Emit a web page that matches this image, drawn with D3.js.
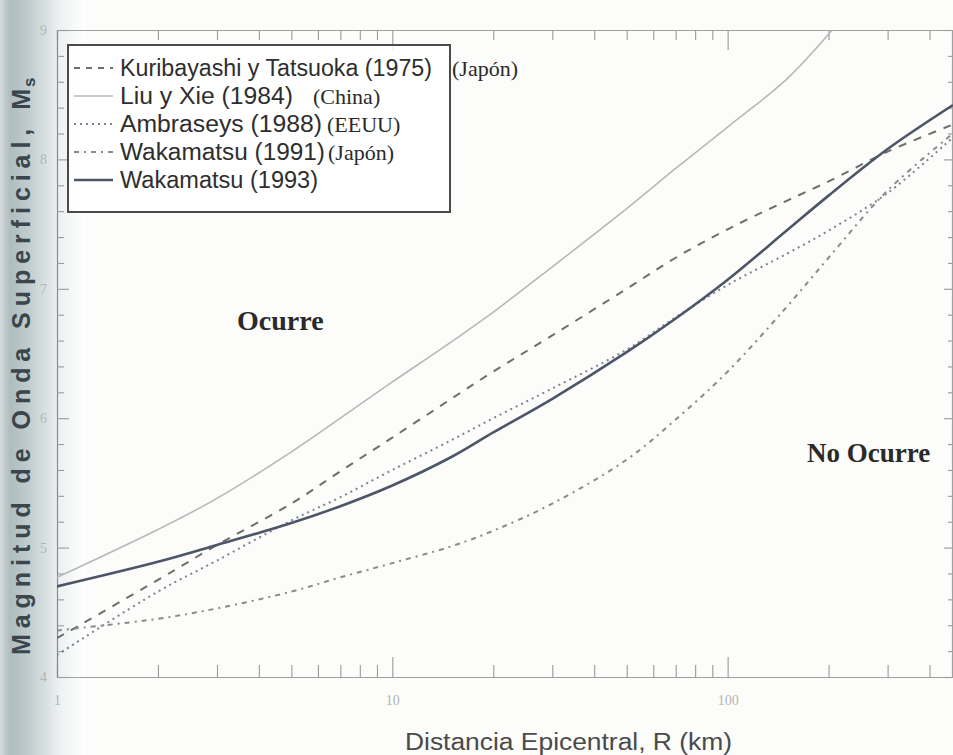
<!DOCTYPE html>
<html><head><meta charset="utf-8">
<script src="https://cdn.jsdelivr.net/npm/d3@7"></script>
<style>body{margin:0;background:#fff}svg{display:block}</style>
</head><body><svg id="c" width="953" height="755"></svg>
<script>
// ---- data ----
const distance = [1, 2, 3, 5, 7, 10, 15, 20, 30, 50, 70, 100, 150, 200, 300, 470];
const kuribayashi = [4.30, 4.75, 5.02, 5.34, 5.59, 5.85, 6.15, 6.36, 6.64, 7.00, 7.24, 7.46, 7.68, 7.83, 8.06, 8.27];
const ambraseys = [4.17, 4.66, 4.90, 5.21, 5.39, 5.60, 5.83, 6.00, 6.23, 6.53, 6.78, 7.03, 7.27, 7.45, 7.74, 8.17];
const wakamatsu1991 = [4.36, 4.45, 4.53, 4.66, 4.77, 4.88, 5.01, 5.13, 5.34, 5.68, 5.99, 6.36, 6.86, 7.24, 7.76, 8.20];
const wakamatsu1993 = [4.70, 4.89, 5.02, 5.19, 5.32, 5.48, 5.70, 5.89, 6.15, 6.51, 6.77, 7.07, 7.45, 7.72, 8.08, 8.42];
const liuDistance = [1, 2, 3, 5, 7, 10, 15, 20, 30, 50, 70, 100, 150, 205];
const liuXie = [4.77, 5.14, 5.38, 5.74, 6.00, 6.28, 6.59, 6.82, 7.17, 7.62, 7.93, 8.25, 8.62, 9.0];
const seriesNames = ["Kuribayashi y Tatsuoka (1975)", "Liu y Xie (1984)", "Ambraseys (1988)", "Wakamatsu (1991)", "Wakamatsu (1993)"];
const seriesRegions = ["(Japón)", "(China)", "(EEUU)", "(Japón)", ""];
const yTickLabels = [4, 5, 6, 7, 8, 9];
const xTickLabels = [1, 10, 100];
const regionLabels = ["Ocurre", "No Ocurre"];
const xTitle = "Distancia Epicentral, R (km)";
const yTitle = "Magnitud de Onda Superficial, M";
const yTitleSub = "s";

// ---- drawing ----
const svg = d3.select("#c");
const W = 953, H = 755;
const L = 57, R = 953, T = 30, B = 677;
const x = d3.scaleLog().domain([1, 470]).range([L, R]);
const y = d3.scaleLinear().domain([4, 9]).range([B, T]);

const defs = svg.append("defs");
const g1 = defs.append("linearGradient").attr("id", "shade").attr("x1", 0).attr("x2", 1).attr("y1", 0).attr("y2", 0);
[[0, "#d6dcdd"], [0.12, "#aebdc0"], [0.35, "#c2cdcf"], [0.7, "#eef1f1"], [1, "#ffffff"]].forEach(s => g1.append("stop").attr("offset", s[0]).attr("stop-color", s[1]));
defs.append("clipPath").attr("id", "clip").append("rect").attr("x", L).attr("y", T).attr("width", R - L).attr("height", B - T);

svg.append("rect").attr("width", W).attr("height", H).attr("fill", "#fcfcfb");
svg.append("rect").attr("x", 0).attr("y", 0).attr("width", 85).attr("height", H).attr("fill", "url(#shade)");

// x ticks (log minor)
const xTicks = [];
for (let d = 1; d <= 100; d *= 10) for (let k = 1; k <= 9; k++) if (d * k <= 470) xTicks.push(d * k);
xTicks.push(200, 300, 400);
const xTickSet = Array.from(new Set(xTicks)).sort((a, b) => a - b);
const isMajorX = v => xTickLabels.includes(v);

const axB = svg.append("g").attr("transform", `translate(0,${B})`)
  .call(d3.axisBottom(x).tickValues(xTickSet).tickSize(-12).tickPadding(18)
    .tickFormat(v => isMajorX(v) ? String(v) : ""));
axB.selectAll(".tick line").attr("y2", v => isMajorX(v) ? -20 : -12);
const axT = svg.append("g").attr("transform", `translate(0,${T})`)
  .call(d3.axisTop(x).tickValues(xTickSet).tickSize(-10).tickFormat(""));
axT.selectAll(".tick line").attr("y2", v => isMajorX(v) ? 20 : 10);

const yTicksAll = d3.range(0, 26).map(i => +(4 + i * 0.2).toFixed(1));
const isMajorY = v => Math.abs(v - Math.round(v)) < 1e-6;
const axL = svg.append("g").attr("transform", `translate(${L},0)`)
  .call(d3.axisLeft(y).tickValues(yTicksAll).tickSize(-7).tickPadding(10)
    .tickFormat(v => isMajorY(v) && yTickLabels.includes(Math.round(v)) ? String(Math.round(v)) : ""));
axL.selectAll(".tick line").attr("x2", v => isMajorY(v) ? 12 : 7);
const axR = svg.append("g").attr("transform", `translate(${R - 1},0)`)
  .call(d3.axisRight(y).tickValues(yTicksAll).tickSize(-4).tickFormat(""));
axR.selectAll(".tick line").attr("x2", v => isMajorY(v) ? -8 : -4);

[axB, axT, axL, axR].forEach(a => {
  a.select(".domain").attr("stroke", "#a0a0a0").attr("stroke-width", 1.2);
  a.selectAll(".tick line").attr("stroke", "#9a9a9a").attr("stroke-width", 1.1);
  a.selectAll(".tick text").attr("fill", "#b4b4b4").attr("font-family", "Liberation Serif, serif").attr("font-size", 14);
});
axL.select(".domain").attr("stroke", "#8a8a8a");

// curves
const line = d3.line().x(d => x(d[0])).y(d => y(d[1])).curve(d3.curveCatmullRom.alpha(0.5));
const plot = svg.append("g").attr("clip-path", "url(#clip)");
const series = [
  { vals: d3.zip(distance, kuribayashi), stroke: "#6e6e6e", w: 2, dash: "8,8" },
  { vals: d3.zip(liuDistance, liuXie), stroke: "#b8b8b8", w: 1.6, dash: null },
  { vals: d3.zip(distance, ambraseys), stroke: "#7c8496", w: 2, dash: "2,4" },
  { vals: d3.zip(distance, wakamatsu1991), stroke: "#8a8a8a", w: 2, dash: "5,5,2,5" },
  { vals: d3.zip(distance, wakamatsu1993), stroke: "#4d5666", w: 2.6, dash: null }
];
series.forEach(s => {
  plot.append("path").attr("d", line(s.vals)).attr("fill", "none")
    .attr("stroke", s.stroke).attr("stroke-width", s.w)
    .attr("stroke-dasharray", s.dash).attr("stroke-linecap", "butt");
});

// legend
const lg = svg.append("g");
lg.append("rect").attr("x", 68).attr("y", 45).attr("width", 382).attr("height", 167)
  .attr("fill", "#fff").attr("fill-opacity", 0.85).attr("stroke", "#4a4a4a").attr("stroke-width", 2);
const rowY = [76, 104, 132, 160, 188];
const nameW = [312, 173, 202, 205, 198];
const regionX = [452, 313, 327, 328, 0];
series.forEach((s, i) => {
  lg.append("line").attr("x1", 74).attr("x2", 113).attr("y1", rowY[i] - 8).attr("y2", rowY[i] - 8)
    .attr("stroke", s.stroke).attr("stroke-width", s.w).attr("stroke-dasharray", s.dash ? (i === 0 ? "6,6" : s.dash) : null);
  lg.append("text").attr("x", 120).attr("y", rowY[i]).text(seriesNames[i])
    .attr("font-family", "Liberation Sans Narrow, Arial Narrow, Liberation Sans, Arial, sans-serif")
    .attr("font-size", 23).attr("fill", "#2e2e2e")
    .attr("textLength", nameW[i]).attr("lengthAdjust", "spacingAndGlyphs");
  if (seriesRegions[i]) {
    lg.append("text").attr("x", regionX[i]).attr("y", rowY[i]).text(seriesRegions[i])
      .attr("font-family", "Liberation Serif, Times New Roman, serif")
      .attr("font-size", 22).attr("fill", "#2a2a2a");
  }
});

// region labels
svg.append("text").attr("x", 237).attr("y", 330).text(regionLabels[0])
  .attr("font-family", "Liberation Serif, Times New Roman, serif").attr("font-weight", "bold")
  .attr("font-size", 28).attr("fill", "#2a2a2a");
svg.append("text").attr("x", 807).attr("y", 462).text(regionLabels[1])
  .attr("font-family", "Liberation Serif, Times New Roman, serif").attr("font-weight", "bold")
  .attr("font-size", 27).attr("fill", "#2a2a2a");

// axis titles
svg.append("text").attr("x", 405).attr("y", 750).text(xTitle)
  .attr("font-family", "Liberation Sans Narrow, Arial Narrow, Liberation Sans, Arial, sans-serif")
  .attr("font-size", 23).attr("fill", "#4a4a4a")
  .attr("textLength", 327).attr("lengthAdjust", "spacingAndGlyphs");
svg.append("text").attr("transform", "translate(30,655) rotate(-90)").text(yTitle)
  .attr("font-family", "Liberation Sans, Arial, sans-serif").attr("font-weight", "bold")
  .attr("font-size", 25).attr("fill", "#3a464b")
  .attr("textLength", 566).attr("lengthAdjust", "spacing");
svg.append("text").attr("transform", "translate(35,87) rotate(-90)").text(yTitleSub)
  .attr("font-family", "Liberation Sans, Arial, sans-serif").attr("font-weight", "bold")
  .attr("font-size", 17).attr("fill", "#3a464b");
</script>
</body></html>
